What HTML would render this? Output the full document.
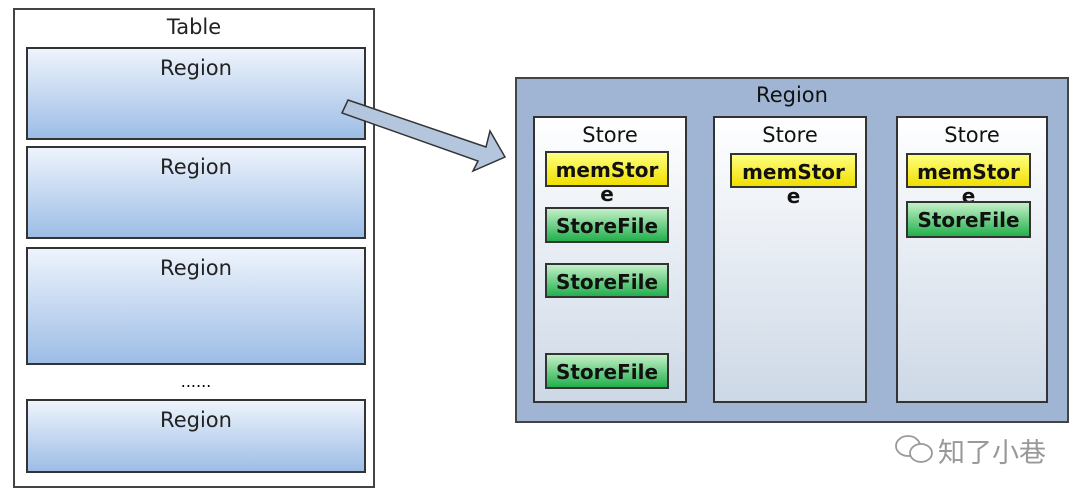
<!DOCTYPE html>
<html><head><meta charset="utf-8"><style>
body{margin:0;width:1080px;height:497px;background:#fff;position:relative;overflow:hidden;font-family:"DejaVu Sans","Liberation Sans",sans-serif;}
div{position:absolute;box-sizing:border-box;}
.t{border:2px solid #444;}
.reg{border:2px solid #333;background:linear-gradient(#eef4fc,#9dbde6);text-align:center;font-size:21px;color:#222;padding-top:7px;}
.store{border:2px solid #333;background:linear-gradient(#fff,#cdd8e6);text-align:center;font-size:21px;color:#111;padding-top:5px;}
.mem{border:2px solid #333;background:linear-gradient(#ffff80,#f0e000);font-size:20px;font-weight:bold;text-align:center;line-height:34px;color:#111;}
.mem span{position:absolute;left:0;right:0;top:31px;line-height:20px;}
.sf{border:2px solid #333;background:linear-gradient(#c4f0c8,#22b04c);font-size:20px;font-weight:bold;text-align:center;line-height:34px;color:#111;}
</style></head><body>
<div class="t" style="left:13px;top:8px;width:362px;height:480px;"></div>
<div style="left:13px;top:15px;width:362px;text-align:center;font-size:21px;color:#222;">Table</div>
<div class="reg" style="left:26px;top:47px;width:340px;height:93px;">Region</div>
<div class="reg" style="left:26px;top:146px;width:340px;height:93px;">Region</div>
<div class="reg" style="left:26px;top:247px;width:340px;height:118px;">Region</div>
<div style="left:26px;top:372px;width:340px;text-align:center;font-size:16px;">......</div>
<div class="reg" style="left:26px;top:399px;width:340px;height:74px;">Region</div>
<svg style="position:absolute;left:0;top:0" width="1080" height="497">
<polygon points="348,100 486,147 490,131 505,157 473,171 478,161 342,113" fill="#b3c6dd" stroke="#333" stroke-width="1.5"/>
</svg>
<div style="left:515px;top:77px;width:554px;height:346px;border:2px solid #444;background:#9fb5d3;"></div>
<div style="left:515px;top:83px;width:554px;text-align:center;font-size:21px;color:#111;">Region</div>
<div class="store" style="left:533px;top:116px;width:154px;height:287px;">Store</div>
<div class="store" style="left:713px;top:116px;width:154px;height:287px;">Store</div>
<div class="store" style="left:896px;top:116px;width:152px;height:287px;">Store</div>
<div class="mem" style="left:545px;top:151px;width:124px;height:36px;">memStor<span>e</span></div>
<div class="sf" style="left:545px;top:207px;width:124px;height:36px;">StoreFile</div>
<div class="sf" style="left:545px;top:263px;width:124px;height:35px;">StoreFile</div>
<div class="sf" style="left:545px;top:353px;width:124px;height:36px;">StoreFile</div>
<div class="mem" style="left:730px;top:153px;width:127px;height:35px;">memStor<span>e</span></div>
<div class="mem" style="left:906px;top:153px;width:125px;height:35px;">memStor<span>e</span></div>
<div class="sf" style="left:906px;top:201px;width:125px;height:37px;">StoreFile</div>
<div style="left:893px;top:433px;width:44px;height:34px;">
<svg width="44" height="34"><ellipse cx="15" cy="13" rx="12" ry="10" fill="#fff" stroke="#999" stroke-width="1.8"/><ellipse cx="28" cy="20" rx="11" ry="9" fill="#fff" stroke="#999" stroke-width="1.8"/></svg></div>
<div style="left:938px;top:431px;font-family:'Noto Sans CJK SC',sans-serif;font-size:27px;color:#999;">知了小巷</div>
</body></html>
